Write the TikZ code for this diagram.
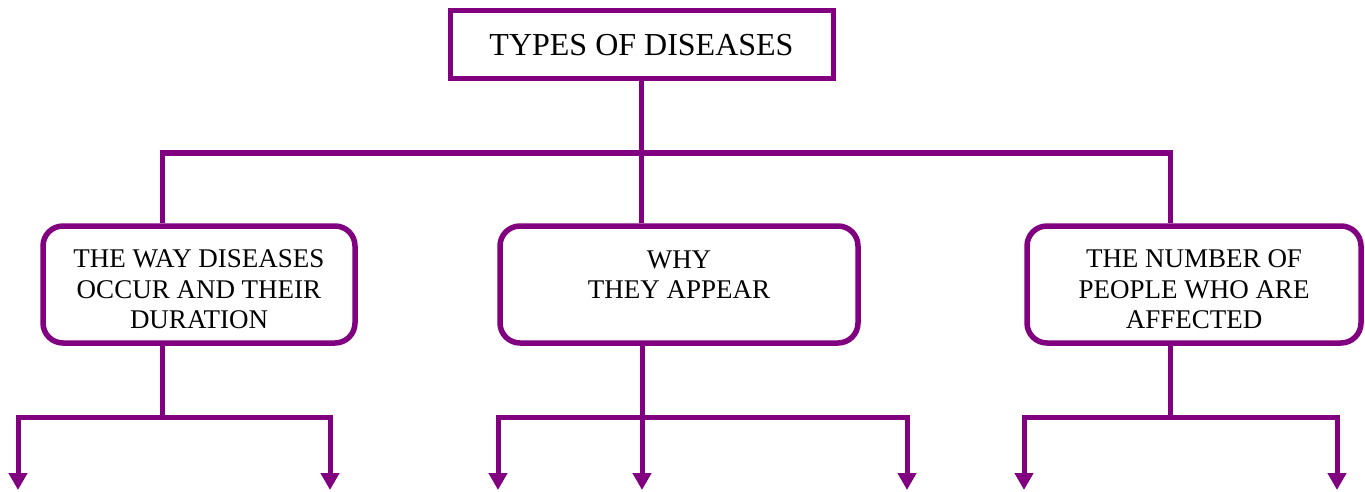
\documentclass[tikz,border=0pt]{standalone}
\usepackage{fontspec}
\setmainfont{Liberation Serif}
\usetikzlibrary{arrows.meta}
\definecolor{diseasePurple}{HTML}{800080}

\begin{document}
\begin{tikzpicture}[x=1pt, y=-1pt,
  every node/.style={font=\fontsize{27}{30.5}\selectfont},
  titlebox/.style={draw=diseasePurple, line width=5pt, minimum width=383pt,
             minimum height=68pt, inner sep=0pt, font=\fontsize{32}{36}\selectfont},
  typebox/.style={draw=diseasePurple, line width=5.5pt, rounded corners=20pt,
             minimum height=117pt, inner sep=0pt, align=center, text height=89pt},
  link/.style={draw=diseasePurple, line width=5pt},
  branch/.style={link, -{Triangle[length=17pt, width=18pt]}},
]
\useasboundingbox (0,0) rectangle (1365,492);

% Title
\node[titlebox] (types) at (641.5, 45) {TYPES OF DISEASES};

% Ways of sorting them
\node[typebox, minimum width=312pt] (way) at (199, 284.5)
  {THE WAY DISEASES\\OCCUR AND THEIR\\DURATION};
\node[typebox, minimum width=358pt, text height=, text depth=20pt] (why) at (679, 284.5)
  {WHY\\THEY APPEAR};
\node[typebox, minimum width=334pt] (num) at (1194, 284.5)
  {THE NUMBER OF\\PEOPLE WHO ARE\\AFFECTED};

% Upper branching
\coordinate (wayup) at (162, 153);
\coordinate (numup) at (1170, 153);
\draw[link] (types.south) -- (types.south |- why.north);
\draw[link] (wayup |- way.north) -- (wayup) -- (numup) -- (numup |- num.north);

% Lower branching
\coordinate (waydown) at (162, 417);
\coordinate (whydown) at (642, 417);
\coordinate (numdown) at (1170, 417);
\coordinate (way1) at (18, 490);
\coordinate (way2) at (330, 490);
\coordinate (why1) at (498, 490);
\coordinate (why2) at (642, 490);
\coordinate (why3) at (907, 490);
\coordinate (num1) at (1024, 490);
\coordinate (num2) at (1337, 490);

\draw[link] (waydown |- way.south) -- (waydown);
\draw[branch] (waydown) -| (way1);
\draw[branch] (waydown) -| (way2);

\draw[branch] (whydown |- why.south) -- (why2);
\draw[branch] (whydown) -| (why1);
\draw[branch] (whydown) -| (why3);

\draw[link] (numdown |- num.south) -- (numdown);
\draw[branch] (numdown) -| (num1);
\draw[branch] (numdown) -| (num2);

\end{tikzpicture}
\end{document}
